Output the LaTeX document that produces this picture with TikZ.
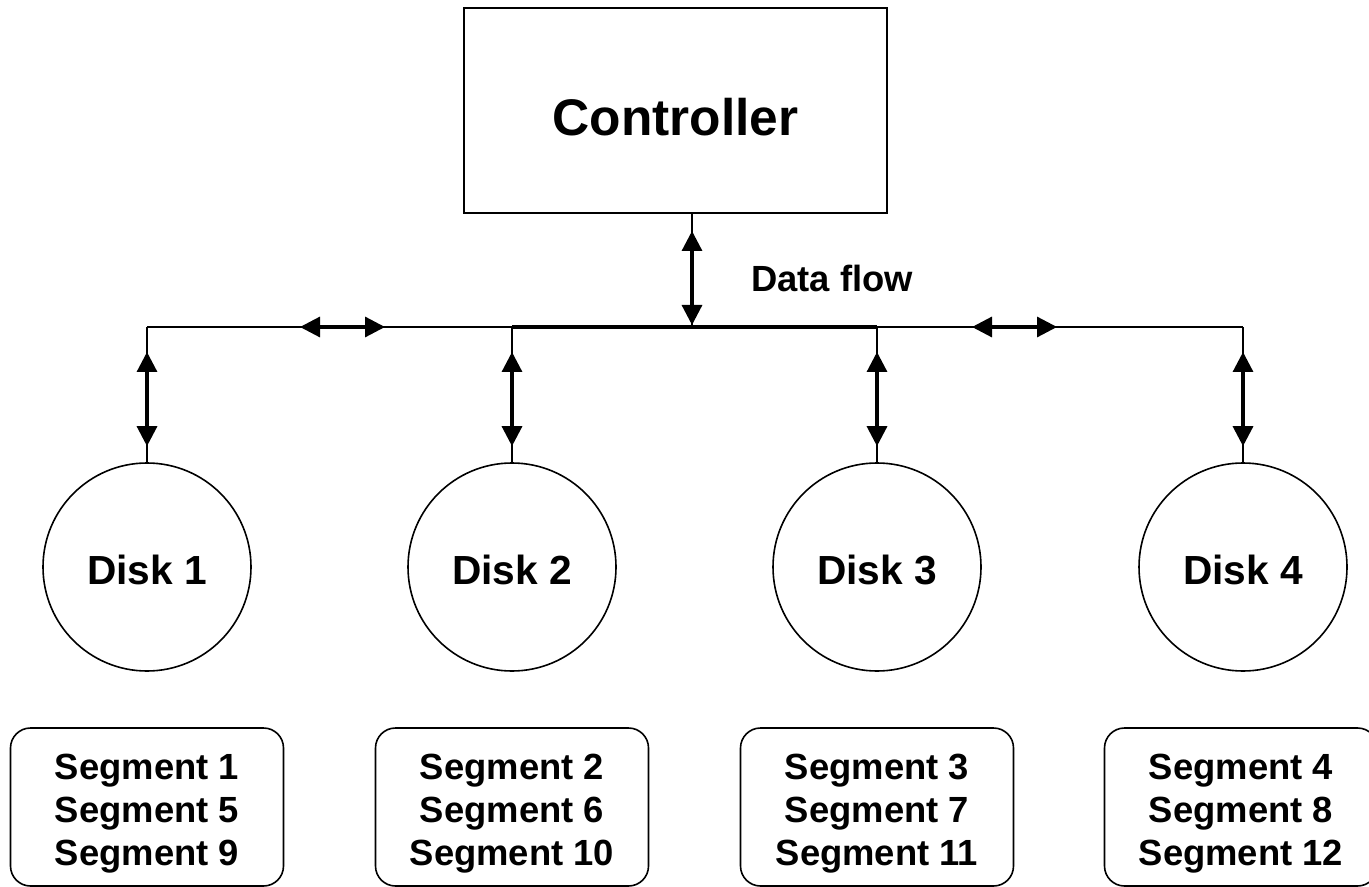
\documentclass[tikz,border=0pt]{standalone}
\usepackage{fontspec}
\setmainfont{Liberation Sans}
\usetikzlibrary{arrows.meta}

\tikzset{every picture/.style={line width=1.2pt}}
\tikzset{
	>={Triangle[length=15pt,width=15pt]},
	ctrlbox/.style={draw, rectangle, minimum width=317.25pt, minimum height=153.75pt, inner sep=0pt, text height=37pt, text depth=0pt, font=\fontsize{38.6}{44}\selectfont\bfseries},
	diskcirc/.style={draw, circle, minimum size=156pt, inner sep=0pt, text height=26.8pt, text depth=0pt, font=\fontsize{30.5}{36}\selectfont\bfseries},
	segbox/.style={draw, rectangle, rounded corners=15pt, minimum width=204.75pt, minimum height=118.5pt, inner sep=0pt, align=center, text height=93pt, font=\fontsize{27.3}{32.3}\selectfont\bfseries},
	dflow/.style={<->, line width=2.4pt},
	busthick/.style={line width=2.4pt}}

\begin{document}
\begin{tikzpicture}[x=0.75pt,y=0.75pt,yscale=-1,xscale=1]
	\useasboundingbox (0,0) rectangle (1369,887);

	%Shape: Rectangle
	\node[ctrlbox] (ctrl) at (675.5,110.5) {Controller};
	%Shape: Circle
	\node[diskcirc] (d1) at (147,567) {Disk 1};
	\node[diskcirc] (d2) at (512,567) {Disk 2};
	\node[diskcirc] (d3) at (877,567) {Disk 3};
	\node[diskcirc] (d4) at (1243,567) {Disk 4};
	%Shape: Rounded Rect
	\node[segbox] (s1) at (147,807) {Segment 1\\Segment 5\\Segment 9};
	\node[segbox] (s2) at (512,807) {Segment 2\\Segment 6\\Segment 10};
	\node[segbox] (s3) at (877,807) {Segment 3\\Segment 7\\Segment 11};
	\node[segbox] (s4) at (1241,807) {Segment 4\\Segment 8\\Segment 12};

	\coordinate (ctap) at (692,214);
	\coordinate (bus) at (692,327);

	%Straight Lines
	\draw (d1.north |- bus) -- (d2.north |- bus) ;
	\draw[busthick] (d2.north |- bus) -- (d3.north |- bus) ;
	\draw (d3.north |- bus) -- (d4.north |- bus) ;
	\draw (ctap) -- (bus) ;
	\draw (d1.north) -- (d1.north |- bus) ;
	\draw (d2.north) -- (d2.north |- bus) ;
	\draw (d3.north) -- (d3.north |- bus) ;
	\draw (d4.north) -- (d4.north |- bus) ;

	%Double Arrows
	\draw[dflow, shorten <=12.75pt, shorten >=1.5pt] (ctap) -- (bus) ;
	\draw[dflow, shorten <=114.75pt, shorten >=95.25pt] (d1.north |- bus) -- (d2.north |- bus) ;
	\draw[dflow, shorten <=71.25pt, shorten >=139.5pt] (d3.north |- bus) -- (d4.north |- bus) ;
	\draw[dflow, shorten <=18.75pt, shorten >=12pt] (d1.north |- bus) -- (d1.north) ;
	\draw[dflow, shorten <=18.75pt, shorten >=12pt] (d2.north |- bus) -- (d2.north) ;
	\draw[dflow, shorten <=18.75pt, shorten >=12pt] (d3.north |- bus) -- (d3.north) ;
	\draw[dflow, shorten <=18.75pt, shorten >=12pt] (d4.north |- bus) -- (d4.north) ;

	% Text Node
	\node[font=\fontsize{27.3}{32}\selectfont\bfseries] (flow) at (832,278) {Data flow};

\end{tikzpicture}
\end{document}
